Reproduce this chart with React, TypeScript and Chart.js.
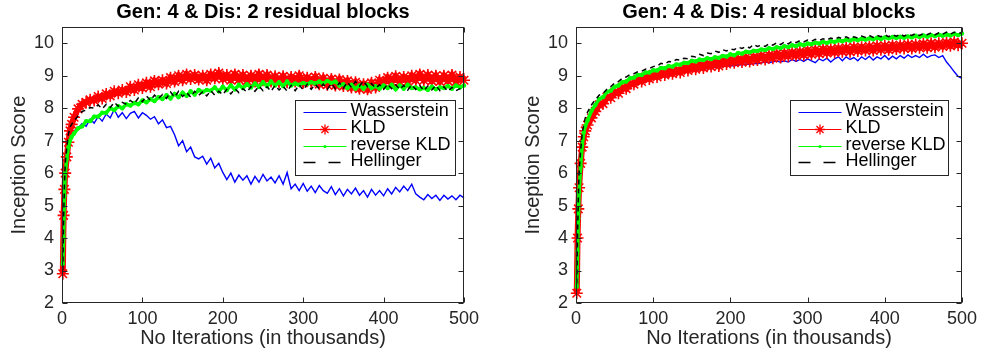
import React, { useEffect, useRef } from 'react';
import { Chart, registerables } from 'chart.js';

Chart.register(...registerables);

const FONT = "'Liberation Sans', Arial, Helvetica, sans-serif";

const iterations = [
  1, 2, 3, 4, 6, 8, 10, 12, 15, 20,
  25, 30, 35, 40, 45, 50, 55, 60, 65, 70,
  75, 80, 85, 90, 95, 100, 105, 110, 115, 120,
  125, 130, 135, 140, 145, 150, 155, 160, 165, 170,
  175, 180, 185, 190, 195, 200, 205, 210, 215, 220,
  225, 230, 235, 240, 245, 250, 255, 260, 265, 270,
  275, 280, 285, 290, 295, 300, 305, 310, 315, 320,
  325, 330, 335, 340, 345, 350, 355, 360, 365, 370,
  375, 380, 385, 390, 395, 400, 405, 410, 415, 420,
  425, 430, 435, 440, 445, 450, 455, 460, 465, 470,
  475, 480, 485, 490, 495, 500,
];

const seriesNames = ['Wasserstein', 'KLD', 'reverse KLD', 'Hellinger'];
const xTickLabels = ['0', '100', '200', '300', '400', '500'];
const yTickLabels = ['2', '3', '4', '5', '6', '7', '8', '9', '10'];

// ---- Left: Gen 4 & Dis 2 residual blocks ----
const leftWasserstein = [
  3.0, 4.3, 5.3, 5.9, 6.5, 6.85, 7.02, 7.14, 7.3, 7.4,
  7.52, 7.44, 7.66, 7.54, 7.74, 7.6, 7.82, 7.7, 7.96, 7.72,
  7.86, 7.68, 7.84, 7.9, 7.7, 7.86, 7.78, 7.66, 7.74, 7.52,
  7.64, 7.4, 7.44, 7.18, 6.84, 7.0, 6.66, 6.8, 6.5, 6.44,
  6.52, 6.28, 6.46, 6.16, 6.3, 6.02, 5.8, 6.0, 5.72, 5.94,
  5.78, 5.92, 5.66, 5.9, 5.72, 5.96, 5.76, 5.88, 5.7, 5.92,
  5.66, 6.02, 5.52, 5.66, 5.46, 5.68, 5.44, 5.6, 5.4, 5.62,
  5.46, 5.38, 5.58, 5.34, 5.52, 5.3, 5.5, 5.36, 5.54, 5.32,
  5.46, 5.26, 5.5, 5.32, 5.46, 5.3, 5.52, 5.36, 5.56, 5.42,
  5.6, 5.46, 5.66, 5.36, 5.26, 5.18, 5.34, 5.22, 5.32, 5.16,
  5.32, 5.2, 5.3, 5.18, 5.32, 5.24,
];
const leftKLD = [
  2.9, 4.7, 5.5, 6.0, 6.5, 6.95, 7.3, 7.5, 7.72, 7.98,
  8.12, 8.18, 8.26, 8.24, 8.36, 8.3, 8.44, 8.38, 8.52, 8.46,
  8.56, 8.5, 8.66, 8.56, 8.72, 8.62, 8.78, 8.66, 8.84, 8.74,
  8.86, 8.76, 8.94, 8.82, 9.0, 8.86, 9.04, 8.9, 9.02, 8.88,
  9.0, 8.86, 9.04, 8.92, 9.08, 8.9, 9.02, 8.86, 9.04, 8.88,
  9.02, 8.84, 9.0, 8.82, 9.04, 8.86, 9.02, 8.82, 8.98, 8.8,
  8.98, 8.8, 8.96, 8.82, 9.0, 8.78, 8.94, 8.8, 8.96, 8.74,
  8.92, 8.72, 8.9, 8.7, 8.88, 8.68, 8.84, 8.64, 8.8, 8.6,
  8.74, 8.58, 8.78, 8.64, 8.86, 8.76, 8.94, 8.8, 8.98, 8.82,
  8.96, 8.82, 9.0, 8.86, 9.04, 8.86, 9.02, 8.84, 9.0, 8.82,
  9.0, 8.84, 9.02, 8.82, 8.96, 8.86,
];
const leftReverseKLD = [
  3.2, 4.0, 5.3, 6.0, 6.45, 6.8, 7.0, 7.12, 7.22, 7.38,
  7.44, 7.6, 7.6, 7.74, 7.74, 7.86, 7.86, 8.0, 7.94, 8.06,
  8.0, 8.12, 8.08, 8.16, 8.12, 8.24, 8.18, 8.28, 8.22, 8.34,
  8.28, 8.4, 8.3, 8.44, 8.34, 8.48, 8.38, 8.52, 8.42, 8.56,
  8.5, 8.56, 8.54, 8.64, 8.52, 8.66, 8.56, 8.7, 8.58, 8.72,
  8.62, 8.74, 8.64, 8.76, 8.66, 8.8, 8.68, 8.82, 8.7, 8.8,
  8.68, 8.82, 8.7, 8.76, 8.72, 8.78, 8.74, 8.8, 8.76, 8.82,
  8.76, 8.84, 8.78, 8.82, 8.7, 8.74, 8.62, 8.72, 8.6, 8.7,
  8.6, 8.72, 8.62, 8.68, 8.6, 8.7, 8.62, 8.72, 8.58, 8.7,
  8.6, 8.72, 8.62, 8.64, 8.58, 8.62, 8.56, 8.66, 8.58, 8.64,
  8.62, 8.68, 8.6, 8.7, 8.64, 8.7,
];
const leftHellinger = [
  3.0, 4.6, 5.6, 6.3, 6.8, 7.2, 7.42, 7.5, 7.62, 7.76,
  7.9, 7.94, 8.02, 8.0, 8.1, 7.98, 8.12, 8.02, 8.18, 8.06,
  8.18, 8.12, 8.24, 8.14, 8.32, 8.2, 8.38, 8.24, 8.4, 8.3,
  8.42, 8.3, 8.5, 8.34, 8.52, 8.36, 8.48, 8.34, 8.52, 8.4,
  8.5, 8.38, 8.54, 8.4, 8.52, 8.42, 8.58, 8.44, 8.6, 8.48,
  8.6, 8.5, 8.66, 8.52, 8.68, 8.54, 8.66, 8.52, 8.7, 8.56,
  8.68, 8.52, 8.7, 8.54, 8.72, 8.56, 8.74, 8.58, 8.74, 8.6,
  8.74, 8.58, 8.76, 8.6, 8.78, 8.62, 8.8, 8.64, 8.82, 8.68,
  8.84, 8.66, 8.76, 8.62, 8.72, 8.58, 8.74, 8.6, 8.72, 8.58,
  8.7, 8.56, 8.72, 8.58, 8.7, 8.54, 8.68, 8.56, 8.7, 8.54,
  8.66, 8.52, 8.64, 8.54, 8.6, 8.56,
];

// ---- Right: Gen 4 & Dis 4 residual blocks ----
const rightWasserstein = [
  2.6, 4.2, 5.3, 6.0, 6.6, 7.0, 7.25, 7.4, 7.55, 7.75,
  7.95, 8.06, 8.18, 8.26, 8.32, 8.4, 8.46, 8.52, 8.58, 8.64,
  8.7, 8.74, 8.8, 8.82, 8.86, 8.9, 8.92, 8.96, 8.98, 9.0,
  9.02, 9.06, 9.06, 9.1, 9.12, 9.14, 9.16, 9.18, 9.2, 9.22,
  9.22, 9.26, 9.26, 9.28, 9.3, 9.32, 9.3, 9.34, 9.33, 9.36,
  9.35, 9.38, 9.37, 9.4, 9.42, 9.4, 9.43, 9.45, 9.42, 9.46,
  9.42, 9.5, 9.44, 9.5, 9.44, 9.52, 9.46, 9.4, 9.52, 9.46,
  9.54, 9.42, 9.52, 9.58, 9.46, 9.58, 9.5, 9.56, 9.46, 9.58,
  9.5, 9.6, 9.48, 9.58, 9.52, 9.62, 9.5, 9.6, 9.52, 9.62,
  9.54, 9.64, 9.56, 9.62, 9.56, 9.66, 9.56, 9.62, 9.64, 9.56,
  9.62, 9.42, 9.28, 9.12, 8.98, 8.92,
];
const rightKLD = [
  2.3, 4.0, 4.9, 5.55, 6.3, 6.8, 7.12, 7.3, 7.48, 7.7,
  7.9, 8.1, 8.14, 8.34, 8.32, 8.5, 8.46, 8.64, 8.6, 8.76,
  8.74, 8.88, 8.82, 8.96, 8.9, 9.04, 8.96, 9.08, 9.02, 9.14,
  9.06, 9.18, 9.1, 9.24, 9.16, 9.3, 9.2, 9.34, 9.24, 9.38,
  9.28, 9.42, 9.3, 9.46, 9.36, 9.5, 9.4, 9.52, 9.42, 9.56,
  9.44, 9.58, 9.48, 9.62, 9.5, 9.64, 9.54, 9.68, 9.56, 9.7,
  9.6, 9.72, 9.62, 9.74, 9.64, 9.78, 9.66, 9.8, 9.68, 9.82,
  9.7, 9.82, 9.72, 9.84, 9.74, 9.86, 9.74, 9.88, 9.76, 9.88,
  9.78, 9.9, 9.78, 9.92, 9.8, 9.92, 9.8, 9.94, 9.82, 9.94,
  9.84, 9.96, 9.84, 9.96, 9.86, 9.98, 9.86, 10.0, 9.88, 10.0,
  9.9, 10.02, 9.92, 10.04, 9.94, 10.0,
];
const rightReverseKLD = [
  2.5, 3.6, 4.6, 5.4, 6.2, 6.85, 7.25, 7.45, 7.62, 7.92,
  8.1, 8.28, 8.34, 8.5, 8.54, 8.66, 8.7, 8.8, 8.82, 8.92,
  8.94, 9.02, 9.02, 9.1, 9.1, 9.17, 9.16, 9.24, 9.23, 9.3,
  9.28, 9.35, 9.34, 9.4, 9.39, 9.46, 9.44, 9.5, 9.48, 9.54,
  9.51, 9.57, 9.55, 9.61, 9.59, 9.66, 9.63, 9.7, 9.68, 9.74,
  9.72, 9.77, 9.76, 9.81, 9.79, 9.85, 9.82, 9.88, 9.85, 9.91,
  9.88, 9.94, 9.91, 9.97, 9.94, 9.99, 9.97, 10.02, 9.99, 10.04,
  10.01, 10.06, 10.04, 10.09, 10.06, 10.11, 10.08, 10.13, 10.09, 10.14,
  10.11, 10.15, 10.12, 10.17, 10.13, 10.18, 10.15, 10.19, 10.16, 10.2,
  10.17, 10.21, 10.18, 10.23, 10.19, 10.24, 10.2, 10.25, 10.22, 10.26,
  10.23, 10.27, 10.24, 10.29, 10.25, 10.3,
];
const rightHellinger = [
  2.6, 4.1, 5.2, 6.0, 6.7, 7.2, 7.5, 7.7, 7.88, 8.1,
  8.26, 8.4, 8.46, 8.58, 8.66, 8.78, 8.82, 8.92, 8.96, 9.04,
  9.06, 9.12, 9.14, 9.2, 9.22, 9.28, 9.3, 9.38, 9.36, 9.44,
  9.42, 9.5, 9.48, 9.54, 9.52, 9.6, 9.58, 9.66, 9.62, 9.7,
  9.68, 9.76, 9.72, 9.8, 9.76, 9.82, 9.8, 9.88, 9.84, 9.9,
  9.86, 9.96, 9.9, 9.94, 9.9, 9.98, 9.94, 10.02, 9.96, 10.04,
  9.98, 10.06, 10.02, 10.08, 10.04, 10.1, 10.06, 10.12, 10.08, 10.14,
  10.1, 10.16, 10.12, 10.18, 10.14, 10.2, 10.14, 10.2, 10.16, 10.22,
  10.18, 10.24, 10.18, 10.24, 10.2, 10.26, 10.2, 10.26, 10.22, 10.28,
  10.22, 10.28, 10.24, 10.3, 10.24, 10.3, 10.26, 10.32, 10.26, 10.32,
  10.28, 10.34, 10.28, 10.34, 10.3, 10.32,
];

const COLORS = ['#0000ff', '#ff0000', '#00ff00', '#000000'];

function makeDatasets(series: number[][]) {
  const pts = (vals: number[]) => vals.map((y, i) => ({ x: iterations[i], y }));
  return [
    {
      label: seriesNames[0], data: pts(series[0]), borderColor: COLORS[0], borderWidth: 1.4,
      pointRadius: 0, order: 4, clip: false,
    },
    {
      label: seriesNames[1], data: pts(series[1]), borderColor: COLORS[1], borderWidth: 6,
      pointStyle: 'star', pointRadius: 6, pointBorderColor: COLORS[1], pointBorderWidth: 1.6,
      pointBackgroundColor: COLORS[1], order: 3, clip: false,
    },
    {
      label: seriesNames[2], data: pts(series[2]), borderColor: COLORS[2], borderWidth: 3.5,
      pointStyle: 'circle', pointRadius: 2.2, pointBackgroundColor: COLORS[2], pointBorderWidth: 0,
      order: 2, clip: false,
    },
    {
      label: seriesNames[3], data: pts(series[3]), borderColor: COLORS[3], borderWidth: 1.5,
      borderDash: [5, 4], pointRadius: 0, order: 1, clip: false,
    },
  ];
}

const framePlugin = {
  id: 'matlabFrame',
  afterDatasetsDraw(chart: any) {
    const { ctx, chartArea: a, scales } = chart;
    ctx.save();
    ctx.strokeStyle = '#262626';
    ctx.lineWidth = 1;
    const L = Math.round(a.left) + 0.5;
    const R = Math.round(a.right) - 0.5;
    const T = Math.round(a.top) + 0.5;
    const B = Math.round(a.bottom) - 0.5;
    ctx.strokeRect(L, T, R - L, B - T);
    ctx.beginPath();
    scales.x.ticks.forEach((t: any) => {
      const px = Math.round(scales.x.getPixelForValue(t.value)) + 0.5;
      ctx.moveTo(px, B); ctx.lineTo(px, B - 5);
      ctx.moveTo(px, T); ctx.lineTo(px, T + 5);
    });
    scales.y.ticks.forEach((t: any) => {
      const py = Math.round(scales.y.getPixelForValue(t.value)) + 0.5;
      ctx.moveTo(L, py); ctx.lineTo(L + 5, py);
      ctx.moveTo(R, py); ctx.lineTo(R - 5, py);
    });
    ctx.stroke();
    ctx.restore();
  },
  afterDraw(chart: any, _args: any, o: any) {
    const { ctx, chartArea: a } = chart;
    const x0 = Math.round(a.right - o.offsetRight) + 0.5;
    const y0 = Math.round(a.top + o.offsetTop) + 0.5;
    ctx.save();
    ctx.fillStyle = '#ffffff';
    ctx.fillRect(x0, y0, o.width, o.height);
    ctx.strokeStyle = '#262626';
    ctx.lineWidth = 1;
    ctx.strokeRect(x0, y0, o.width, o.height);
    ctx.font = `18px ${FONT}`;
    ctx.textBaseline = 'middle';
    chart.data.datasets.forEach((ds: any, i: number) => {
      const y = Math.round(y0 + o.rowStart + i * o.rowGap) + 0.5;
      const xs = x0 + 8;
      const xe = x0 + 51;
      const xm = (xs + xe) / 2;
      ctx.save();
      ctx.strokeStyle = ds.borderColor;
      ctx.lineWidth = ds.borderDash ? 1.3 : 1.2;
      ctx.setLineDash(ds.borderDash ? [12, 13] : []);
      ctx.beginPath(); ctx.moveTo(xs, y); ctx.lineTo(xe, y); ctx.stroke();
      ctx.setLineDash([]);
      if (ds.pointStyle === 'star') {
        const r = 5;
        const d = r * Math.SQRT1_2;
        ctx.beginPath();
        ctx.moveTo(xm - r, y); ctx.lineTo(xm + r, y);
        ctx.moveTo(xm, y - r); ctx.lineTo(xm, y + r);
        ctx.moveTo(xm - d, y - d); ctx.lineTo(xm + d, y + d);
        ctx.moveTo(xm - d, y + d); ctx.lineTo(xm + d, y - d);
        ctx.lineWidth = 1.3;
        ctx.stroke();
      } else if (ds.pointStyle === 'circle') {
        ctx.fillStyle = ds.borderColor;
        ctx.beginPath(); ctx.arc(xm, y, 1.6, 0, Math.PI * 2); ctx.fill();
      }
      ctx.restore();
      ctx.fillStyle = '#000000';
      ctx.fillText(ds.label, x0 + 55, y - 1);
    });
    ctx.restore();
  },
};

function makeConfig(title: string, series: number[][], pad: { left: number; right: number }, legend: any) {
  return {
    type: 'line' as const,
    data: { datasets: makeDatasets(series) },
    plugins: [framePlugin],
    options: {
      responsive: false,
      animation: false as const,
      devicePixelRatio: 1,
      events: [],
      layout: { padding: { left: pad.left, right: pad.right, top: 0, bottom: 0 } },
      elements: { line: { tension: 0 } },
      plugins: {
        legend: { display: false },
        tooltip: { enabled: false },
        title: {
          display: true, text: title, fullSize: false, color: '#000000',
          font: { family: FONT, size: 20, weight: 'bold' as const },
          padding: { top: 0, bottom: 3 },
        },
        matlabFrame: legend,
      },
      scales: {
        x: {
          type: 'linear' as const, min: 0, max: 500,
          afterBuildTicks: (s: any) => { s.ticks = xTickLabels.map((l) => ({ value: Number(l) })); },
          ticks: {
            stepSize: 100, color: '#262626', font: { family: FONT, size: 18 }, padding: 5,
            maxRotation: 0, autoSkip: false,
          },
          grid: { display: false, drawTicks: false },
          border: { display: false },
          title: {
            display: true, text: 'No Iterations (in thousands)', color: '#262626',
            font: { family: FONT, size: 20 }, padding: { top: 0, bottom: 6 },
          },
          afterFit: (s: any) => { s.height = 53; },
        },
        y: {
          type: 'linear' as const, min: 2, max: 10.5,
          afterBuildTicks: (s: any) => { s.ticks = yTickLabels.map((l) => ({ value: Number(l) })); },
          ticks: {
            stepSize: 1, includeBounds: false, color: '#262626', font: { family: FONT, size: 18 }, padding: 8,
          },
          grid: { display: false, drawTicks: false },
          border: { display: false },
          title: {
            display: true, text: 'Inception Score', color: '#262626',
            font: { family: FONT, size: 20 }, padding: { top: 7, bottom: 0 },
          },
          afterFit: (s: any) => { s.width = 62; },
        },
      },
    },
  };
}

export default function App() {
  const leftRef = useRef<HTMLCanvasElement>(null);
  const rightRef = useRef<HTMLCanvasElement>(null);

  useEffect(() => {
    const left = new Chart(
      leftRef.current as HTMLCanvasElement,
      makeConfig(
        'Gen: 4 & Dis: 2 residual blocks',
        [leftWasserstein, leftKLD, leftReverseKLD, leftHellinger],
        { left: 0, right: 27 },
        { offsetRight: 169, offsetTop: 73, width: 160, height: 75, rowStart: 11.7, rowGap: 16.7 },
      ) as any,
    );
    const right = new Chart(
      rightRef.current as HTMLCanvasElement,
      makeConfig(
        'Gen: 4 & Dis: 4 residual blocks',
        [rightWasserstein, rightKLD, rightReverseKLD, rightHellinger],
        { left: 23, right: 17 },
        { offsetRight: 172, offsetTop: 73, width: 158, height: 75, rowStart: 11.7, rowGap: 16.7 },
      ) as any,
    );
    return () => {
      left.destroy();
      right.destroy();
    };
  }, []);

  return (
    <div style={{ position: 'absolute', left: 0, top: 0, width: 982, height: 356, background: '#ffffff' }}>
      <canvas ref={leftRef} width={491} height={356}
        style={{ position: 'absolute', left: 0, top: 0, width: 491, height: 356 }} />
      <canvas ref={rightRef} width={491} height={356}
        style={{ position: 'absolute', left: 491, top: 0, width: 491, height: 356 }} />
    </div>
  );
}
